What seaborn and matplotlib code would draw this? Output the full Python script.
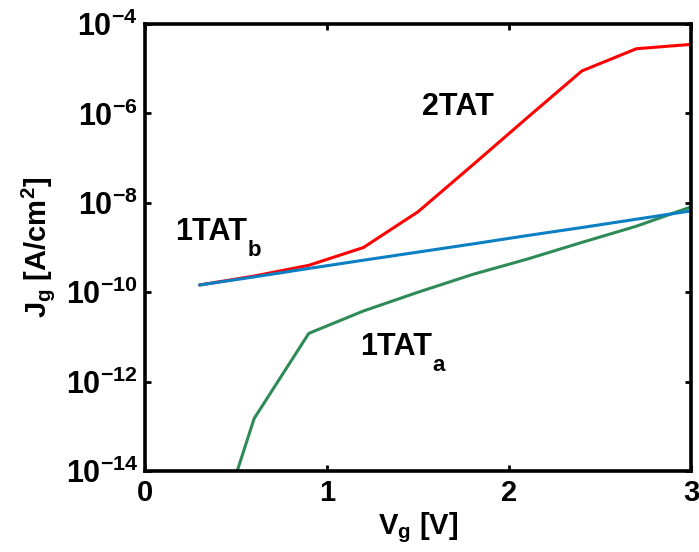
import numpy as np
import pandas as pd
import matplotlib
matplotlib.use('Agg')
import matplotlib.pyplot as plt
import seaborn as sns
from matplotlib.ticker import FixedLocator, FuncFormatter, NullLocator
from matplotlib.transforms import offset_copy

# data (gate voltage vs. current density)
vg = [0.3, 0.6, 0.9, 1.2, 1.5, 1.8, 2.1, 2.4, 2.7, 3.0]
j_2tat = [1.45e-10, 2.3e-10, 4.0e-10, 1.0e-9, 6.3e-9, 7.0e-8, 8.0e-7, 8.9e-6, 2.8e-5, 3.5e-5]
j_1tat_b = [1.45e-10, 2.2e-10, 3.4e-10, 5.2e-10, 7.9e-10, 1.2e-9, 1.85e-9, 2.8e-9, 4.3e-9, 6.6e-9]
j_1tat_a = [2.5e-17, 1.5e-13, 1.2e-11, 3.8e-11, 1.0e-10, 2.5e-10, 5.5e-10, 1.3e-9, 3.0e-9, 8.1e-9]

y_ticks = [1e-14, 1e-12, 1e-10, 1e-8, 1e-6, 1e-4]
x_ticks = [0, 1, 2, 3]

sns.set_style('ticks', {'axes.edgecolor': 'black', 'text.color': 'black',
                        'axes.labelcolor': 'black', 'xtick.color': 'black',
                        'ytick.color': 'black'})
plt.rcParams['font.family'] = ['Liberation Sans', 'DejaVu Sans']
plt.rcParams['font.weight'] = 'bold'
plt.rcParams['mathtext.fontset'] = 'custom'
plt.rcParams['mathtext.rm'] = 'Liberation Sans:bold'
plt.rcParams['mathtext.bf'] = 'Liberation Sans:bold'
plt.rcParams['mathtext.it'] = 'Liberation Sans:bold'
plt.rcParams['mathtext.default'] = 'bf'

df = pd.DataFrame({'Vg': vg, '2TAT': j_2tat, '1TATb': j_1tat_b, '1TATa': j_1tat_a})

fig = plt.figure(figsize=(6.99, 5.52), dpi=100)
ax = fig.add_axes([0.2074, 0.1467, 0.7812, 0.8098])
ax.set_yscale('log')

sns.lineplot(data=df, x='Vg', y='2TAT', color='#FF0000', linewidth=2.2, ax=ax)
sns.lineplot(data=df, x='Vg', y='1TATa', color='#2E8B57', linewidth=2.2, ax=ax)
sns.lineplot(data=df, x='Vg', y='1TATb', color='#0A7FC4', linewidth=2.2, ax=ax)

ax.set_xlim(0, 3)
ax.set_ylim(1e-14, 1e-4)
ax.xaxis.set_major_locator(FixedLocator(x_ticks))
ax.yaxis.set_major_locator(FixedLocator(y_ticks))
ax.yaxis.set_minor_locator(NullLocator())
ax.yaxis.set_major_formatter(FuncFormatter(
    lambda v, p: r'$\mathbf{10^{%d}}$' % int(round(np.log10(v)))))
ax.xaxis.set_major_formatter(FuncFormatter(lambda v, p: '%d' % v))

ax.tick_params(direction='in', top=True, right=True, length=4, width=2,
               labelsize=21, pad=6, colors='black')
ax.tick_params(axis='y', labelsize=22, pad=5)
for s in ax.spines.values():
    s.set_linewidth(2.6)
    s.set_color('black')
    s.set_visible(True)

ax.set_xlabel(r'V$_\mathbf{g}$ [V]', fontsize=21, fontweight='bold', labelpad=2)
ax.set_ylabel(r'J$_\mathbf{g}$ [A/cm$^\mathbf{2}$]', fontsize=21, fontweight='bold', labelpad=6)

ax.text(1.72, 10**-5.86, '2TAT', fontsize=22, fontweight='bold', ha='center', va='center')

# labels with a low, large subscript (drawn as a second text piece)
renderer = fig.canvas.get_renderer()
for x0, y0, main, sub in [(0.165, 10**-8.83, '1TAT', 'b'), (1.18, 10**-11.4, '1TAT', 'a')]:
    t = ax.text(x0, y0, main, fontsize=22, fontweight='bold', ha='left', va='baseline')
    w = t.get_window_extent(renderer=renderer).width * 72 / fig.dpi
    tr = offset_copy(ax.transData, fig=fig, x=w + 0.5, y=-11.5, units='points')
    ax.text(x0, y0, sub, fontsize=16, fontweight='bold', ha='left', va='baseline', transform=tr)

fig.savefig('out.png', dpi=100)
